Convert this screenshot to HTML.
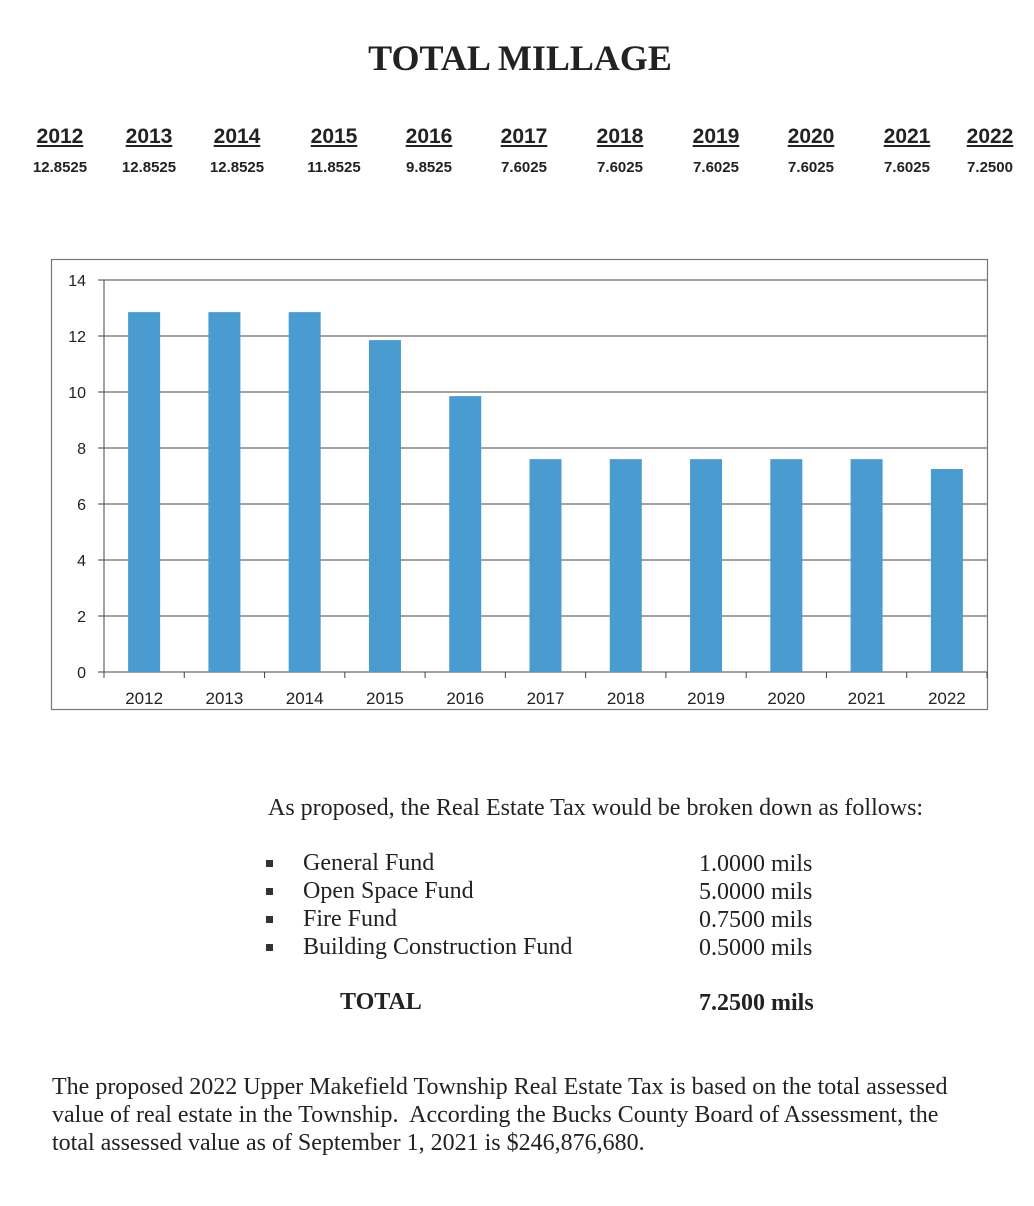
<!DOCTYPE html>
<html><head><meta charset="utf-8"><style>
body{margin:0;width:1034px;height:1206px;background:#fff;position:relative;overflow:hidden;font-family:"Liberation Serif",serif;color:#222}
.a{position:absolute;white-space:nowrap}
.yr{font-family:"Liberation Sans",sans-serif;font-weight:bold;font-size:21px;text-decoration:underline;transform:translateX(-50%)}
.val{font-family:"Liberation Sans",sans-serif;font-weight:bold;font-size:15px;transform:translateX(-50%)}
.t{font-size:24px}
.b{position:absolute;width:7px;height:7px;background:#333}
</style></head><body>
<div class="a" style="left:0;width:1040px;text-align:center;top:37px;font-size:36px;font-weight:bold">TOTAL MILLAGE</div>
<div id="hdr"></div>
<svg class="a" style="left:0;top:0" width="1034" height="720" id="chart"></svg>
<div class="a t" style="left:268px;top:795px">As proposed, the Real Estate Tax would be broken down as follows:</div>
<div>
<div class="b" style="left:266px;top:860px"></div><div class="a t" style="left:303px;top:850px">General Fund</div><div class="a t" style="left:699px;top:851px">1.0000 mils</div>
<div class="b" style="left:266px;top:888px"></div><div class="a t" style="left:303px;top:878px">Open Space Fund</div><div class="a t" style="left:699px;top:879px">5.0000 mils</div>
<div class="b" style="left:266px;top:916px"></div><div class="a t" style="left:303px;top:906px">Fire Fund</div><div class="a t" style="left:699px;top:907px">0.7500 mils</div>
<div class="b" style="left:266px;top:944px"></div><div class="a t" style="left:303px;top:934px">Building Construction Fund</div><div class="a t" style="left:699px;top:935px">0.5000 mils</div>
<div class="a t" style="left:340px;top:989px;font-weight:bold">TOTAL</div><div class="a t" style="left:699px;top:990px;font-weight:bold">7.2500 mils</div>
</div>
<div class="a t" style="left:52px;top:1073px;line-height:28px;white-space:normal;width:910px">The proposed 2022 Upper Makefield Township Real Estate Tax is based on the total assessed value of real estate in the Township.&nbsp; According the Bucks County Board of Assessment, the total assessed value as of September 1, 2021 is $246,876,680.</div>
<script>
const years=["2012","2013","2014","2015","2016","2017","2018","2019","2020","2021","2022"];
const labels=["12.8525","12.8525","12.8525","11.8525","9.8525","7.6025","7.6025","7.6025","7.6025","7.6025","7.2500"];
const values=[12.8525,12.8525,12.8525,11.8525,9.8525,7.6025,7.6025,7.6025,7.6025,7.6025,7.25];
const yTicks=[0,2,4,6,8,10,12,14];
const hx=[60,149,237,334,429,524,620,716,811,907,990];
const hdr=document.getElementById('hdr');
years.forEach((y,i)=>{
 const d=document.createElement('div');d.className='a yr';d.style.left=hx[i]+'px';d.style.top='125px';d.textContent=y;
 
 
 hdr.appendChild(d);
 const v=document.createElement('div');v.className='a val';v.style.left=hx[i]+'px';v.style.top='159px';v.textContent=labels[i];
 
 
 hdr.appendChild(v);
});
const svg=document.getElementById('chart');const NS='http://www.w3.org/2000/svg';
const X0=104,X1=987,Y0=672,Y1=280,cw=(X1-X0)/years.length;
const ys=v=>Y0-(v/14)*(Y0-Y1);
function el(t,a,name){const e=document.createElementNS(NS,t);for(const k in a)e.setAttribute(k,a[k]);svg.appendChild(e);return e;}
el('rect',{x:51.5,y:259.5,width:936,height:450,fill:'none',stroke:'#777','stroke-width':1.2},'chart-frame');
yTicks.forEach(t=>{
 el('line',{x1:X0-6,x2:X1,y1:ys(t),y2:ys(t),stroke:'#444','stroke-width':1},'gridline');
 const tx=el('text',{x:86,y:ys(t)+6,'text-anchor':'end','font-family':'Liberation Sans, sans-serif','font-size':16,fill:'#222'},'y-tick-label');tx.textContent=t;
});
el('line',{x1:X0,x2:X0,y1:Y1,y2:Y0+6,stroke:'#444'},'y-axis');
years.forEach((y,i)=>{
 const cx=X0+cw*(i+0.5);
 el('rect',{x:cx-16,y:ys(values[i]),width:32,height:Y0-ys(values[i]),fill:'#4a9bd0'},'bar-'+y);
 el('line',{x1:X0+cw*(i+1),x2:X0+cw*(i+1),y1:Y0,y2:Y0+6,stroke:'#444'},'x-tick');
 const tx=el('text',{x:cx,y:704,'text-anchor':'middle','font-family':'Liberation Sans, sans-serif','font-size':17,fill:'#222'},'x-tick-label');tx.textContent=y;
});
</script>
</body></html>
